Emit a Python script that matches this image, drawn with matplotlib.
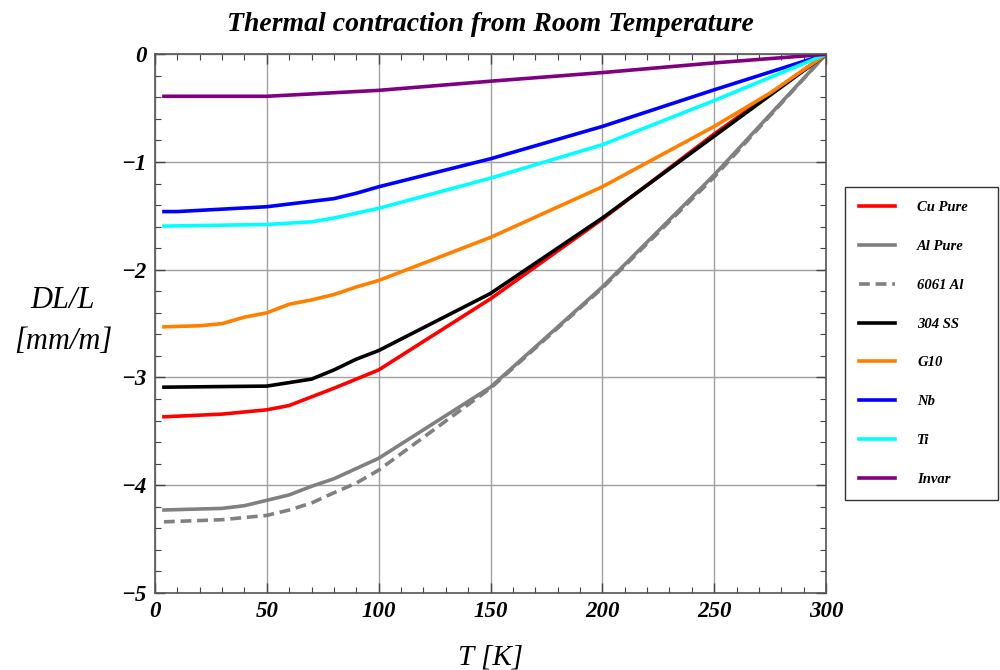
import numpy as np
import matplotlib
matplotlib.use("Agg")
import matplotlib.pyplot as plt
from matplotlib.ticker import MultipleLocator

# Datos (T en K, DL/L en mm/m)
T_cu = [4, 30, 50, 60, 70, 80, 100, 150, 200, 250, 300]
cu = [-3.365, -3.34, -3.30, -3.26, -3.18, -3.10, -2.93, -2.27, -1.53, -0.74, 0.0]

T_al = [4, 30, 40, 50, 60, 70, 80, 100, 150, 200, 250, 300]
al = [-4.23, -4.215, -4.19, -4.14, -4.09, -4.01, -3.94, -3.75, -3.09, -2.16, -1.12, 0.0]

T_6061 = [4, 30, 50, 60, 70, 80, 90, 100, 150, 200, 250, 300]
al6061 = [-4.34, -4.32, -4.28, -4.23, -4.165, -4.07, -3.98, -3.86, -3.10, -2.17, -1.14, 0.0]

T_ss = [4, 50, 70, 80, 90, 100, 150, 200, 250, 300]
ss = [-3.09, -3.08, -3.015, -2.93, -2.83, -2.75, -2.22, -1.52, -0.76, 0.0]

T_g10 = [4, 20, 30, 40, 50, 60, 70, 80, 90, 100, 150, 200, 250, 275, 300]
g10 = [-2.53, -2.52, -2.50, -2.44, -2.40, -2.32, -2.28, -2.23, -2.16, -2.10,
       -1.70, -1.23, -0.67, -0.36, 0.0]

T_nb = [4, 10, 50, 80, 90, 100, 150, 200, 250, 300]
nb = [-1.46, -1.46, -1.415, -1.34, -1.29, -1.23, -0.97, -0.67, -0.33, 0.0]

T_ti = [4, 50, 70, 80, 100, 150, 200, 250, 300]
ti = [-1.595, -1.58, -1.555, -1.52, -1.43, -1.15, -0.84, -0.43, 0.0]

T_inv = [4, 50, 100, 150, 200, 250, 300]
invar = [-0.39, -0.39, -0.335, -0.25, -0.17, -0.08, 0.0]

series = [
    (T_cu, cu, "Cu Pure", "red", "-"),
    (T_al, al, "Al Pure", "gray", "-"),
    (T_6061, al6061, "6061 Al", "gray", (0, (3, 1.6))),
    (T_ss, ss, "304 SS", "black", "-"),
    (T_g10, g10, "G10", "#ff8000", "-"),
    (T_nb, nb, "Nb", "blue", "-"),
    (T_ti, ti, "Ti", "cyan", "-"),
    (T_inv, invar, "Invar", "purple", "-"),
]

plt.rcParams['font.family'] = ['Liberation Serif', 'DejaVu Serif']

fig = plt.figure(figsize=(10, 6.7), dpi=100)
ax = fig.add_axes([0.155, 0.115, 0.671, 0.804])

for t, v, lab, col, ls in series:
    ax.plot(t, v, color=col, ls=ls, lw=2.6, label=lab)

ax.set_xlim(0, 300)
ax.set_ylim(-5, 0)
ax.xaxis.set_major_locator(MultipleLocator(50))
ax.xaxis.set_minor_locator(MultipleLocator(10))
ax.yaxis.set_major_locator(MultipleLocator(1))
ax.yaxis.set_minor_locator(MultipleLocator(0.2))
ax.grid(True, which='major', color='#a0a0a0', lw=1.0)
ax.set_axisbelow(True)
ax.tick_params(which='both', direction='in', top=True, right=True, color='#444444')
ax.tick_params(which='major', length=7, width=1)
ax.tick_params(which='minor', length=4, width=0.8)
ax.tick_params(axis='both', labelsize=16.5, pad=6)
for s in ax.spines.values():
    s.set_color('#555555')
    s.set_linewidth(1.2)

ax.set_xticks(np.arange(0, 301, 50))
ax.set_xticklabels([str(x) for x in range(0, 301, 50)])
ax.set_yticks(np.arange(-5, 0.5, 1))
ax.set_yticklabels(["\u22125", "\u22124", "\u22123", "\u22122", "\u22121", "0"])
for lbl in ax.get_xticklabels() + ax.get_yticklabels():
    lbl.set_style('italic')
    lbl.set_fontweight('bold')

ax.set_title("Thermal contraction from Room Temperature", fontsize=20,
             style='italic', fontweight='bold', pad=17)
ax.set_xlabel("T [K]", fontsize=21, style='italic', labelpad=16)
fig.text(0.063, 0.521, "DL/L\n[mm/m]", fontsize=22, style='italic',
         ha='center', va='center', linespacing=1.55)

leg = fig.legend(loc='upper left', bbox_to_anchor=(0.845, 0.251, 0.153, 0.47),
                 mode='expand', frameon=True, fancybox=False, edgecolor='black',
                 handlelength=2.5, handletextpad=1.5, labelspacing=1.76,
                 borderpad=0.95, borderaxespad=0,
                 prop={'style': 'italic', 'weight': 'bold', 'size': 10.5})
leg.get_frame().set_linewidth(1.0)

fig.savefig("out.png", dpi=100)
